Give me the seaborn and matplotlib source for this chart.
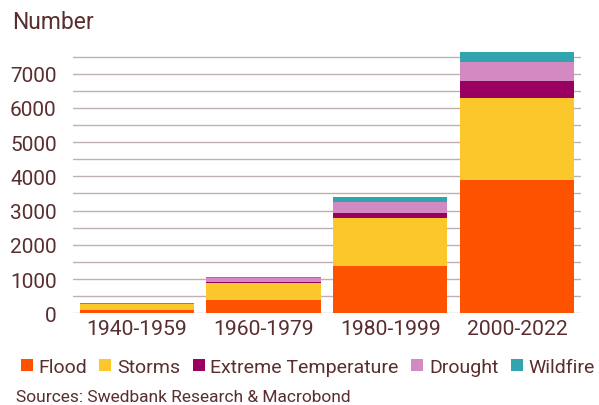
import numpy as np
import pandas as pd
import matplotlib
matplotlib.use("Agg")
import matplotlib.pyplot as plt
from matplotlib.lines import Line2D
from matplotlib.ticker import FixedLocator
import seaborn as sns

periods = ["1940-1959", "1960-1979", "1980-1999", "2000-2022"]
flood = [90, 400, 1370, 3890]
storms = [180, 490, 1420, 2390]
extreme_temperature = [5, 20, 137, 500]
drought = [10, 125, 313, 560]
wildfire = [5, 30, 155, 290]

series_names = ["Flood", "Storms", "Extreme Temperature", "Drought", "Wildfire"]
series_values = [flood, storms, extreme_temperature, drought, wildfire]
colors = ["#fd5200", "#fcc72b", "#99005f", "#d38ac3", "#32a4ae"]

text_color = "#5a2e2e"
grid_color = "#bfb1b1"

sns.set_theme(style="white")
plt.rcParams["font.family"] = ["Roboto", "DejaVu Sans"]

fig = plt.figure(figsize=(5.99, 4.06), dpi=100)
ax = fig.add_axes([0.1224, 0.2259, 0.8470, 0.6492])

bottom = np.zeros(len(periods))
for name, vals, col in zip(series_names, series_values, colors):
    df = pd.DataFrame({"period": periods, "value": vals})
    sns.barplot(data=df, x="period", y="value", color=col, width=0.9,
                bottom=bottom, ax=ax, saturation=1, linewidth=0,
                zorder=3, clip_on=False)
    bottom = bottom + np.array(vals)

ax.set_xlim(-0.5, 3.5)
ax.set_ylim(0, 7700)
ax.yaxis.set_major_locator(FixedLocator(np.arange(0, 7001, 1000)))
ax.yaxis.set_minor_locator(FixedLocator(np.arange(500, 7501, 1000)))
ax.grid(axis="y", which="both", color=grid_color, linewidth=1.0, zorder=0)
ax.grid(axis="x", visible=False)
for s in ax.spines.values():
    s.set_visible(False)
ax.set_xlabel("")
ax.set_ylabel("")
ax.tick_params(axis="y", which="both", length=0, pad=12, labelsize=15,
               labelcolor=text_color)
ax.tick_params(axis="x", length=0, pad=4, labelsize=15.2, labelcolor=text_color)

fig.text(0.02, 0.945, "Number", fontsize=16.5, color=text_color,
         ha="left", va="center")

handles = [Line2D([], [], marker="s", linestyle="none", markersize=9,
                  markerfacecolor=c, markeredgewidth=0) for c in colors]
fig.legend(handles, series_names, loc="center left",
           bbox_to_anchor=(0.033, 0.094), ncol=5, frameon=False,
           fontsize=14, labelcolor=text_color, handlelength=0.7,
           handletextpad=0.25, columnspacing=0.6, borderaxespad=0,
           borderpad=0)

fig.text(0.027, 0.022, "Sources: Swedbank Research & Macrobond",
         fontsize=12.5, color=text_color, ha="left", va="center")

fig.savefig("out.png", dpi=100)
